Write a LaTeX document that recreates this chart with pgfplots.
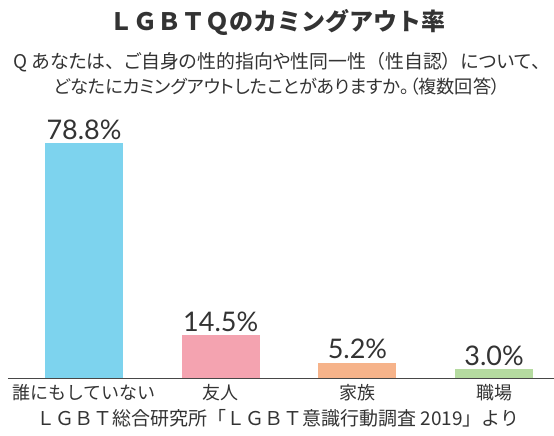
\documentclass[border=0pt]{standalone}
\usepackage{fontspec}
\usepackage{pgfplots}
\pgfplotsset{compat=1.18}
\setmainfont{Noto Sans CJK JP}
\newfontfamily\pfont[RawFeature=+palt]{Noto Sans CJK JP}
\newfontfamily\numfont{Lato}
\definecolor{cblue}{HTML}{7DD3EE}
\definecolor{cpink}{HTML}{F4A3B0}
\definecolor{corange}{HTML}{F6B38A}
\definecolor{cgreen}{HTML}{B5DBA0}
\definecolor{txt}{HTML}{333333}
\begin{document}
\begin{tikzpicture}[x=1pt,y=1pt]
\path[use as bounding box] (0,0) rectangle (554,436);
\node[font=\bfseries\fontsize{24}{26}\selectfont, text=txt] at (277,414) {ＬＧＢＴＱのカミングアウト率};
\node[font=\fontsize{18.9}{21}\selectfont, text=txt] at (282,374) {{\pfont Q あなたは}、{\pfont ご自身の性的指向や性同一性}（{\pfont 性自認}）{\pfont について}、};
\node[font=\pfont\fontsize{18.2}{21}\selectfont, text=txt] at (277,349) {どなたにカミングアウトしたことがありますか。（複数回答）};
\node[font=\fontsize{19}{21}\selectfont, text=txt] at (278,18) {ＬＧＢＴ総合研究所「ＬＧＢＴ意識行動調査 2019」より};
\begin{axis}[
  at={(8pt,58pt)}, anchor=south west,
  scale only axis, width=546pt, height=298pt,
  xmin=-0.556, xmax=3.438, ymin=0, ymax=100,
  axis x line=bottom, axis y line=none,
  x axis line style={-, draw=txt!90, line width=0.9pt},
  ytick=\empty,
  xtick={0,1,2,3},
  xticklabels={誰にもしていない,友人,家族,職場},
  xtick style={draw=none},
  xticklabel style={font=\fontsize{18}{20}\selectfont, text=txt, yshift=1pt},
  ybar, bar width=78pt, bar shift=0pt,
  nodes near coords={\pgfmathprintnumber[fixed,precision=1,fixed zerofill,assume math mode=true]{\pgfplotspointmeta}\%},
  every node near coord/.append style={font=\numfont\fontsize{27}{29}\selectfont, text=txt, yshift=0pt},
  clip=false,
]
\addplot[fill=cblue, draw=none] coordinates {(0,78.8)};
\addplot[fill=cpink, draw=none] coordinates {(1,14.5)};
\addplot[fill=corange, draw=none] coordinates {(2,5.2)};
\addplot[fill=cgreen, draw=none] coordinates {(3,3.0)};
\end{axis}
\end{tikzpicture}
\end{document}
